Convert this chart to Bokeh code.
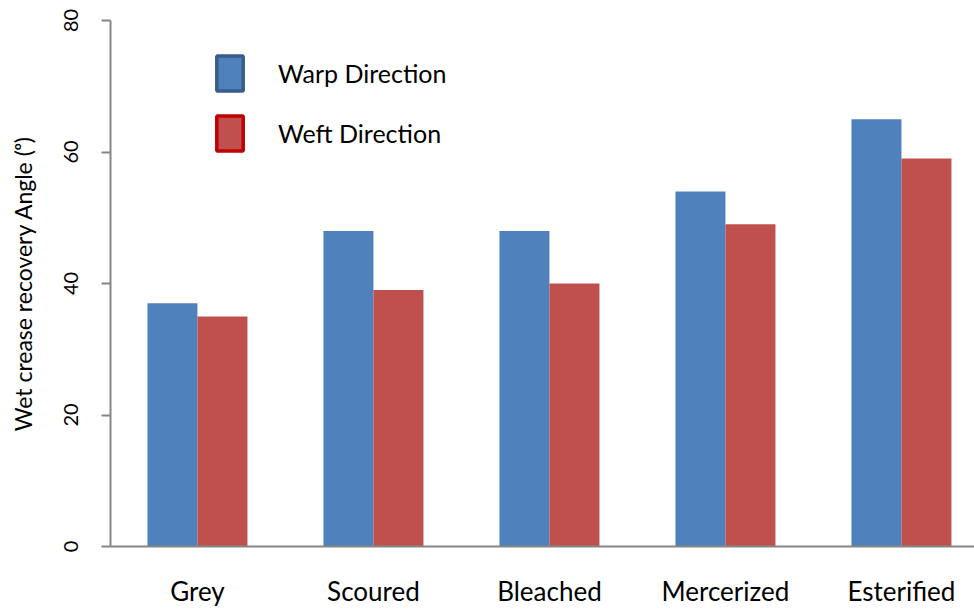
from bokeh.plotting import figure
from bokeh.models import Range1d, FixedTicker, Legend, LegendItem, ColumnDataSource
from bokeh.embed import file_html
from bokeh.resources import INLINE

categories = ["Grey", "Scoured", "Bleached", "Mercerized", "Esterified"]
warp = [37, 48, 48, 54, 65]
weft = [35, 39, 40, 49, 59]
y_ticks = [0, 20, 40, 60, 80]

FONT = "Lato"
bar_w = 50 / 176
idx = list(range(len(categories)))
NAN = float("nan")

p = figure(width=974, height=609, output_backend="svg", toolbar_location=None,
           x_range=Range1d(-0.494, 4.415), y_range=Range1d(0, 80),
           min_border_left=110, min_border_top=20, min_border_right=0, min_border_bottom=10)
p.outline_line_color = None
p.xgrid.visible = False
p.ygrid.visible = False
p.background_fill_color = "white"
p.border_fill_color = "white"

src_warp = ColumnDataSource(dict(x=[i - bar_w / 2 for i in idx], top=warp))
src_weft = ColumnDataSource(dict(x=[i + bar_w / 2 for i in idx], top=weft))
p.vbar(x="x", top="top", width=bar_w, bottom=0, source=src_warp,
       fill_color="#4F81BD", line_color=None)
p.vbar(x="x", top="top", width=bar_w, bottom=0, source=src_weft,
       fill_color="#C0504D", line_color=None)

# legend proxies (NaN data, never drawn in the plot)
lg_warp = p.vbar(x=[NAN], top=[NAN], width=0.1, fill_color="#4F81BD", line_color="#385D8A", line_width=3.5)
lg_weft = p.vbar(x=[NAN], top=[NAN], width=0.1, fill_color="#C0504D", line_color="#C00000", line_width=3.5)
legend = Legend(items=[LegendItem(label="Warp Direction", renderers=[lg_warp]),
                       LegendItem(label="Weft Direction", renderers=[lg_weft])],
                location=(103, 391), orientation="vertical",
                glyph_width=33, glyph_height=44, label_height=44, spacing=16,
                label_standoff=32, padding=0, margin=0,
                border_line_color=None, background_fill_alpha=0,
                label_text_font=FONT, label_text_font_size="25px", label_text_color="#000000")
p.add_layout(legend, "center")

# y axis
ya = p.yaxis[0]
ya.ticker = FixedTicker(ticks=y_ticks)
ya.minor_tick_line_color = None
ya.major_tick_out = 9
ya.major_tick_in = 0
ya.axis_line_color = "#868686"
ya.axis_line_width = 2
ya.major_tick_line_color = "#868686"
ya.major_tick_line_width = 2
ya.major_label_orientation = "vertical"
ya.major_label_text_font = FONT
ya.major_label_text_font_size = "20px"
ya.major_label_text_color = "#000000"
ya.major_label_standoff = 24
ya.axis_label = "Wet crease recovery Angle (ᵒ)"
ya.axis_label_text_font = FONT
ya.axis_label_text_font_size = "23px"
ya.axis_label_text_font_style = "normal"
ya.axis_label_text_color = "#000000"
ya.axis_label_standoff = 24

# x axis
xa = p.xaxis[0]
xa.ticker = FixedTicker(ticks=idx)
xa.major_label_overrides = {i: c for i, c in zip(idx, categories)}
xa.minor_tick_line_color = None
xa.major_tick_line_color = None
xa.major_tick_out = 0
xa.major_tick_in = 0
xa.axis_line_color = "#868686"
xa.axis_line_width = 2
xa.major_label_text_font = FONT
xa.major_label_text_font_size = "26px"
xa.major_label_text_color = "#000000"
xa.major_label_standoff = 28

open("out.html", "w").write(file_html(p, INLINE))
